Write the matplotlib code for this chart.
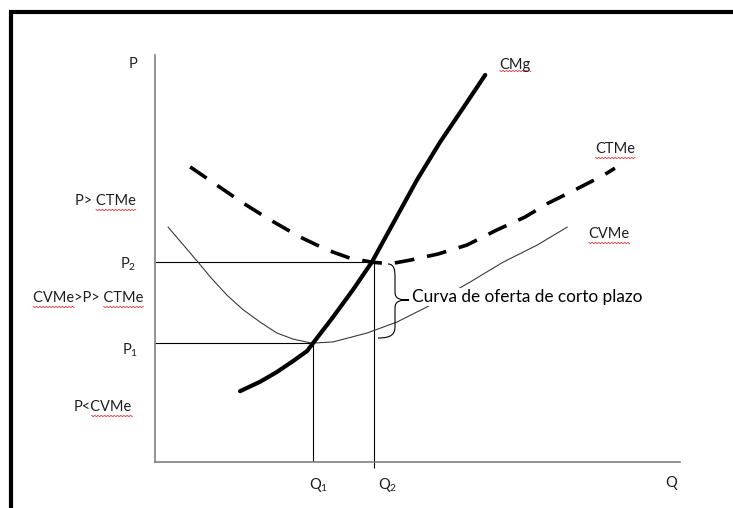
import matplotlib
matplotlib.use("Agg")
import numpy as np
import matplotlib.pyplot as plt
from matplotlib.lines import Line2D
from matplotlib.path import Path
from matplotlib.patches import PathPatch
from matplotlib.transforms import IdentityTransform

plt.rcParams['font.family'] = ['Lato', 'DejaVu Sans']
plt.rcParams['mathtext.fontset'] = 'custom'
plt.rcParams['mathtext.rm'] = 'Lato'
plt.rcParams['mathtext.it'] = 'Lato'

# ---- data (Q, P) ----
cmg_q = [16.2, 20.0, 23.2, 26.3, 29.0, 30.1, 33.9, 37.7, 41.3, 45.3, 49.9, 54.3, 58.7, 62.9]
cmg_p = [17.4, 19.7, 22.1, 24.8, 27.3, 29.2, 35.6, 42.3, 49.1, 58.5, 69.3, 78.6, 87.0, 95.1]

ctme_q = [6.7, 16.8, 21.9, 27.6, 32.8, 37.1, 41.3, 44.8, 48.6, 53.9, 59.4, 65.1, 70.5, 74.9, 79.6, 85.5, 87.6]
ctme_p = [72.5, 63.6, 59.5, 55.3, 52.1, 50.1, 49.1, 48.7, 49.6, 51.1, 53.3, 57.0, 60.2, 63.6, 66.6, 70.5, 72.2]

cvme_q = [2.5, 8.2, 10.5, 13.7, 16.8, 20.0, 23.2, 26.3, 29.9, 33.9, 40.4, 46.1, 51.8, 60.0, 66.3, 72.8, 78.5]
cvme_p = [57.7, 49.1, 45.5, 41.0, 37.4, 34.4, 31.7, 30.2, 29.2, 29.5, 31.7, 34.4, 38.1, 44.2, 49.1, 53.3, 57.7]

q1, q2 = 30.1, 41.7
p1, p2 = 29.2, 49.1

W, H = 733, 508
fig = plt.figure(figsize=(W / 100, H / 100), dpi=100)

def fx(x):
    return x / W

def fy(y):
    return 1 - y / H

# axes: origin at pixel (155, 462), Q range 0..100 over 525 px, P 0..100 over 407 px
x0, y0 = 155, 462
ax = fig.add_axes([fx(x0), fy(y0), 525 / W, 407 / H])
ax.set_xlim(0, 100)
ax.set_ylim(0, 100)
for s in ['top', 'right']:
    ax.spines[s].set_visible(False)
for s in ['left', 'bottom']:
    ax.spines[s].set_color('#7f7f7f')
    ax.spines[s].set_linewidth(1.2)
ax.set_xticks([])
ax.set_yticks([])
ax.patch.set_alpha(0)

# guide lines
ax.plot([0, q2], [p2, p2], color='black', lw=0.8, solid_capstyle='butt')
ax.plot([0, q1], [p1, p1], color='black', lw=0.8, solid_capstyle='butt')
ax.plot([q1, q1], [0, p1], color='black', lw=0.8, solid_capstyle='butt')
ax.plot([q2, q2], [-1.5, p2], color='black', lw=0.8, solid_capstyle='butt', clip_on=False)

# curves
ax.plot(cvme_q, cvme_p, color='#3a3a3a', lw=0.8, zorder=2)
ax.plot(ctme_q, ctme_p, color='black', lw=2.6, linestyle=(0, (5.5, 3.6)), zorder=3)
ax.plot(cmg_q, cmg_p, color='black', lw=3.0, solid_capstyle='round', solid_joinstyle='round', zorder=4)

# brace (curly bracket)
def px2d(x, y):
    return ((x - x0) / 5.25, (y0 - y) / 4.07)

brace = [
    (388, 264),
    (395, 264), (395, 272), (395, 278),
    (395, 292),
    (395, 299), (400, 300), (409, 300),
    (400, 300), (395, 301), (395, 308),
    (395, 326),
    (395, 334), (392, 338), (378, 338),
]
bcodes = [Path.MOVETO,
          Path.CURVE4, Path.CURVE4, Path.CURVE4,
          Path.LINETO,
          Path.CURVE4, Path.CURVE4, Path.CURVE4,
          Path.CURVE4, Path.CURVE4, Path.CURVE4,
          Path.LINETO,
          Path.CURVE4, Path.CURVE4, Path.CURVE4]
bpath = Path([px2d(*p) for p in brace], bcodes)
ax.add_patch(PathPatch(bpath, facecolor='none', edgecolor='black', lw=0.8, clip_on=False, zorder=5))

fs = 10.5
tkw = dict(fontsize=fs, color='#1e1e1e')

labels = []
# curve labels
labels.append((fig.text(fx(515), fy(65), 'CMg', ha='center', va='center', **tkw), [(0, 3)]))
labels.append((fig.text(fx(615), fy(149), 'CTMe', ha='center', va='center', **tkw), [(0, 4)]))
labels.append((fig.text(fx(609), fy(234), 'CVMe', ha='center', va='center', **tkw), [(0, 4)]))

# axis labels
fig.text(fx(133), fy(64), 'P', ha='center', va='center', **tkw)
fig.text(fx(671), fy(483), 'Q', ha='center', va='center', **tkw)
fig.text(fx(319), fy(485), r'Q$_\mathregular{1}$', ha='center', va='center', **tkw)
fig.text(fx(388), fy(485), r'Q$_\mathregular{2}$', ha='center', va='center', **tkw)

# price labels on left
labels.append((fig.text(fx(105), fy(201), 'P> CTMe', ha='center', va='center', **tkw), [(3, 7)]))
fig.text(fx(128), fy(264), r'P$_\mathregular{2}$', ha='center', va='center', **tkw)
labels.append((fig.text(fx(88), fy(298), 'CVMe>P> CTMe', ha='center', va='center', **tkw), [(0, 4), (8, 12)]))
fig.text(fx(130), fy(350), r'P$_\mathregular{1}$', ha='center', va='center', **tkw)
labels.append((fig.text(fx(103), fy(407), 'P<CVMe', ha='center', va='center', **tkw), [(2, 6)]))

# brace label
fig.text(fx(412), fy(297), 'Curva de oferta de corto plazo', ha='left', va='center',
         fontsize=12.4, color='black',
         bbox=dict(facecolor='white', edgecolor='none', pad=0.5), zorder=6)

# outer frame (top and left visible)
fig.add_artist(Line2D([fx(9), fx(W + 5)], [fy(12), fy(12)], color='black', lw=3.0,
                      transform=fig.transFigure, solid_capstyle='butt'))
fig.add_artist(Line2D([fx(11), fx(11)], [fy(10), fy(H + 5)], color='black', lw=3.0,
                      transform=fig.transFigure, solid_capstyle='butt'))

# red wavy spell-check underlines under some words
fig.canvas.draw()
r = fig.canvas.get_renderer()
for t, spans in labels:
    s = t.get_text()
    prop = t.get_fontproperties()
    bb = t.get_window_extent(r)
    _, _, desc = r.get_text_width_height_descent(s, prop, ismath=False)
    base = bb.y0 + desc
    for a, b in spans:
        wa = r.get_text_width_height_descent(s[:a], prop, ismath=False)[0] if a > 0 else 0.0
        wb = r.get_text_width_height_descent(s[:b], prop, ismath=False)[0]
        xa, xb = bb.x0 + wa + 0.5, bb.x0 + wb
        n = max(int((xb - xa) / 1.6), 2)
        xs = np.linspace(xa, xb, n + 1)
        ys = base - 1.4 - 1.2 * (np.arange(n + 1) % 2)
        fig.add_artist(Line2D(xs, ys, color='#e03030', lw=0.6, transform=IdentityTransform()))

fig.savefig('out.png', dpi=100, facecolor='white')
